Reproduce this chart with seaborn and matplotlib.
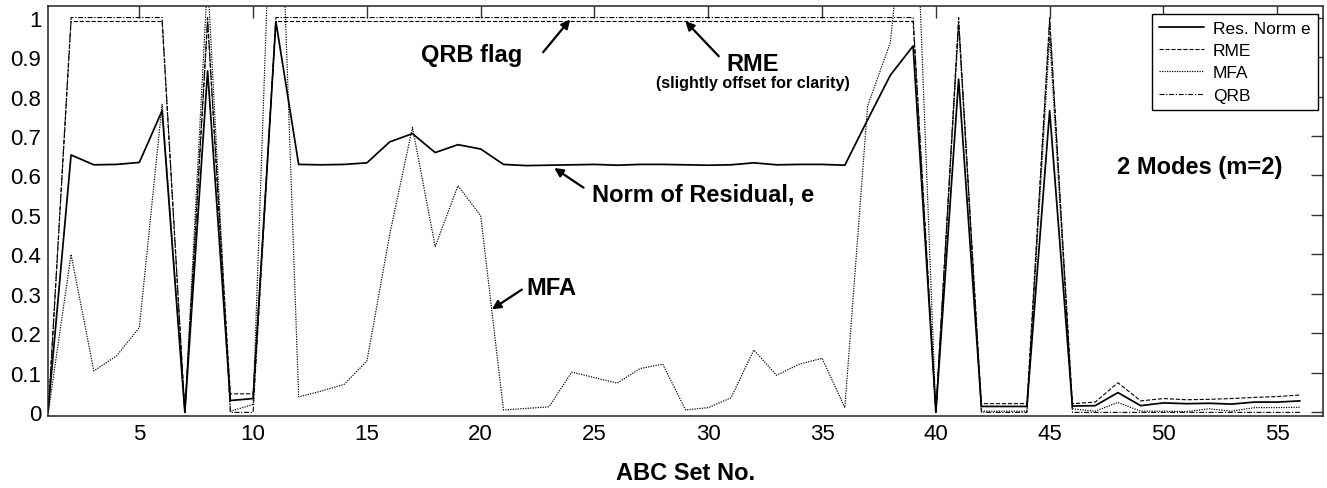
import matplotlib
matplotlib.use("Agg")
import matplotlib.pyplot as plt
import seaborn as sns
import numpy as np

# ABC set numbers
set_no = list(range(1, 57))

# Residual norm e
res_norm = [0.010, 0.652, 0.627, 0.628, 0.633, 0.764, 0.000, 0.865, 0.030, 0.035,
            0.990, 0.628, 0.627, 0.628, 0.632, 0.685, 0.706, 0.658, 0.678, 0.667,
            0.628, 0.625, 0.626, 0.627, 0.628, 0.626, 0.628, 0.628, 0.627, 0.626,
            0.627, 0.632, 0.627, 0.628, 0.628, 0.626, 0.741, 0.854, 0.928, 0.000,
            0.844, 0.015, 0.015, 0.015, 0.764, 0.016, 0.017, 0.050, 0.017, 0.024,
            0.022, 0.023, 0.021, 0.026, 0.026, 0.029]

# RME (flag level drawn slightly below 1)
rme = [0.000, 0.990, 0.990, 0.990, 0.990, 0.990, 0.000, 0.990, 0.047, 0.047,
       0.990, 0.990, 0.990, 0.990, 0.990, 0.990, 0.990, 0.990, 0.990, 0.990,
       0.990, 0.990, 0.990, 0.990, 0.990, 0.990, 0.990, 0.990, 0.990, 0.990,
       0.990, 0.990, 0.990, 0.990, 0.990, 0.990, 0.990, 0.990, 0.990, 0.000,
       0.990, 0.022, 0.022, 0.022, 0.990, 0.022, 0.026, 0.075, 0.029, 0.035,
       0.032, 0.033, 0.035, 0.038, 0.040, 0.044]

# MFA
mfa = [0.000, 0.400, 0.105, 0.143, 0.215, 0.780, 0.000, 1.100, 0.003, 0.020,
       1.700, 0.039, 0.054, 0.071, 0.130, 0.450, 0.722, 0.420, 0.574, 0.498,
       0.006, 0.010, 0.014, 0.102, 0.088, 0.074, 0.111, 0.122, 0.006, 0.012,
       0.037, 0.158, 0.094, 0.122, 0.137, 0.012, 0.776, 0.937, 1.500, 0.000,
       0.980, 0.003, 0.003, 0.003, 0.950, 0.009, 0.003, 0.025, 0.003, 0.003,
       0.002, 0.009, 0.003, 0.012, 0.012, 0.013]

# QRB flag
qrb = [0, 1, 1, 1, 1, 1, 0, 1, 0, 0,
       1, 1, 1, 1, 1, 1, 1, 1, 1, 1,
       1, 1, 1, 1, 1, 1, 1, 1, 1, 1,
       1, 1, 1, 1, 1, 1, 1, 1, 1, 0,
       1, 0, 0, 0, 1, 0, 0, 0, 0, 0,
       0, 0, 0, 0, 0, 0]

series_labels = ["Res. Norm e", "RME", "MFA", "QRB"]
x_ticks = [5, 10, 15, 20, 25, 30, 35, 40, 45, 50, 55]
y_ticks = [0.0, 0.1, 0.2, 0.3, 0.4, 0.5, 0.6, 0.7, 0.8, 0.9, 1.0]

sns.set_style("white")
plt.rcParams["font.family"] = ["Liberation Sans", "DejaVu Sans"]
plt.rcParams["lines.scale_dashes"] = False
plt.rcParams["text.color"] = "black"
plt.rcParams["axes.labelcolor"] = "black"
plt.rcParams["xtick.color"] = "black"
plt.rcParams["ytick.color"] = "black"

fig = plt.figure(figsize=(13.27, 4.89), dpi=100)
ax = fig.add_axes([0.0364, 0.1466, 0.9604, 0.8397])

styles = [
    dict(linestyle="-", lw=1.25),
    dict(linestyle=(0, (3.0, 1.3)), lw=0.8),
    dict(linestyle=(0, (0.9, 0.9)), lw=0.85),
    dict(linestyle=(0, (3.6, 1.2, 0.9, 1.2)), lw=0.8),
]
for values, label, st in zip([res_norm, rme, mfa, qrb], series_labels, styles):
    sns.lineplot(x=set_no, y=values, ax=ax, color="black", label=label,
                 estimator=None, sort=False, **st)

ax.set_xlim(1, 57)
ax.set_ylim(-0.01, 1.03)
ax.set_xticks(x_ticks)
ax.set_xticklabels([str(t) for t in x_ticks])
ax.set_yticks(y_ticks)
ax.set_yticklabels([f"{t:g}" for t in y_ticks])
ax.tick_params(direction="in", length=8.5, width=1.0, top=True, right=True,
               labelsize=16, pad=5, color="#333333", labelcolor="black")
for sp in ax.spines.values():
    sp.set_visible(True)
    sp.set_color("#222222")
    sp.set_linewidth(1.1)

ax.set_xlabel("ABC Set No.", fontsize=17, fontweight="bold", labelpad=12)
ax.set_ylabel("")

leg = ax.legend(loc="upper right", bbox_to_anchor=(0.996, 0.981), borderaxespad=0,
                fontsize=12.5, handlelength=2.6, handletextpad=0.5, labelspacing=0.42,
                borderpad=0.4, fancybox=False, framealpha=1, edgecolor="black")
leg.get_frame().set_linewidth(1.0)

arrow_kw = dict(arrowstyle="-|>", color="black", lw=1.6, mutation_scale=13,
                shrinkA=0, shrinkB=0)
ax.text(19.62, 0.889, "QRB flag", fontsize=17, fontweight="bold",
        ha="center", va="baseline")
ax.annotate("", xy=(23.93, 0.995), xytext=(22.74, 0.912), arrowprops=arrow_kw)

ax.text(31.95, 0.868, "RME", fontsize=17, fontweight="bold",
        ha="center", va="baseline")
ax.text(31.96, 0.8245, "(slightly offset for clarity)", fontsize=11.6,
        fontweight="bold", ha="center", va="baseline")
ax.annotate("", xy=(28.99, 0.991), xytext=(30.46, 0.902), arrowprops=arrow_kw)

ax.text(29.78, 0.537, "Norm of Residual, e", fontsize=17, fontweight="bold",
        ha="center", va="baseline")
ax.annotate("", xy=(23.23, 0.619), xytext=(24.52, 0.569), arrowprops=arrow_kw)

ax.text(23.11, 0.299, "MFA", fontsize=17, fontweight="bold",
        ha="center", va="baseline")
ax.annotate("", xy=(20.49, 0.261), xytext=(21.81, 0.311), arrowprops=arrow_kw)

ax.text(51.59, 0.607, "2 Modes (m=2)", fontsize=17, fontweight="bold",
        ha="center", va="baseline")

fig.savefig("out.png", dpi=100)
